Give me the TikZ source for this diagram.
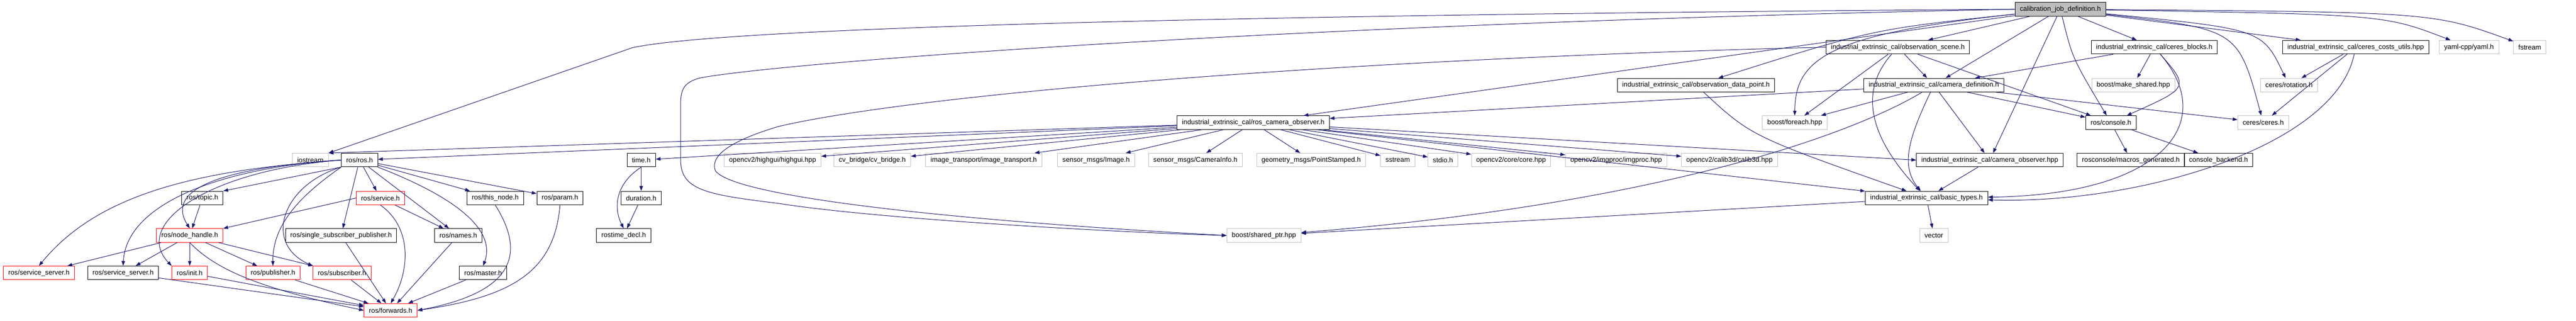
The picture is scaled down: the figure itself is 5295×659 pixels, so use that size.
\documentclass[tikz,border=0pt]{standalone}
\usepackage{fontspec}
\setmainfont{Liberation Sans}
\usetikzlibrary{arrows.meta}
\definecolor{edgeblue}{HTML}{191970}
\definecolor{extgray}{HTML}{BFBFBF}
\tikzset{
  file/.style={draw=black, line width=0.6pt, inner xsep=0.2cm, inner ysep=0pt,
    minimum height=0.56cm, font=\fontsize{8}{9}\selectfont},
  redfile/.style={file, draw=red},
  extfile/.style={file, draw=extgray},
  rootfile/.style={file, fill=extgray},
  dep/.style={draw=edgeblue, line width=0.6pt, -{Triangle[length=0.2cm,width=0.14cm]}},
}
\begin{document}
\begin{tikzpicture}[x=0.02cm, y=-0.02cm]
\useasboundingbox (0,0) rectangle (5295,659);
% top rows
\node[rootfile] (root) at (4235,19) {calibration\_job\_definition.h};
\node[file] (scene) at (3901,97) {industrial\_extrinsic\_cal/observation\_scene.h};
\node[file] (blocks) at (4428,97) {industrial\_extrinsic\_cal/ceres\_blocks.h};
\node[file] (costs) at (4842,97) {industrial\_extrinsic\_cal/ceres\_costs\_utils.hpp};
\node[extfile] (yaml) at (5075,97) {yaml-cpp/yaml.h};
\node[extfile] (fstream) at (5200,97) {fstream};
\node[file] (datapt) at (3486,175) {industrial\_extrinsic\_cal/observation\_data\_point.h};
\node[file] (camdef) at (3975,175) {industrial\_extrinsic\_cal/camera\_definition.h};
\node[extfile] (makeshared) at (4385,175) {boost/make\_shared.hpp};
\node[extfile] (rotation) at (4705,175) {ceres/rotation.h};
\node[file] (rosobs) at (2576,252) {industrial\_extrinsic\_cal/ros\_camera\_observer.h};
\node[extfile] (foreach) at (3689,252) {boost/foreach.hpp};
\node[file] (console) at (4339,252) {ros/console.h};
\node[extfile] (ceres) at (4652,252) {ceres/ceres.h};
% includes of the ros camera observer
\node[extfile] (iostream) at (638,329) {iostream};
\node[file] (rosh) at (739,329) {ros/ros.h};
\node[file] (timeh) at (1318,329) {time.h};
\node[extfile] (highgui) at (1588,329) {opencv2/highgui/highgui.hpp};
\node[extfile] (cvbridge) at (1793,329) {cv\_bridge/cv\_bridge.h};
\node[extfile] (imgtrans) at (2022,329) {image\_transport/image\_transport.h};
\node[extfile] (imagemsg) at (2253,329) {sensor\_msgs/Image.h};
\node[extfile] (caminfo) at (2457,329) {sensor\_msgs/CameraInfo.h};
\node[extfile] (ptstamped) at (2695,329) {geometry\_msgs/PointStamped.h};
\node[extfile] (sstream) at (2873,329) {sstream};
\node[extfile] (stdio) at (2966,329) {stdio.h};
\node[extfile] (core) at (3106,329) {opencv2/core/core.hpp};
\node[extfile] (imgproc) at (3322,329) {opencv2/imgproc/imgproc.hpp};
\node[extfile] (calib3d) at (3555,329) {opencv2/calib3d/calib3d.hpp};
\node[file] (camobs) at (4090,329) {industrial\_extrinsic\_cal/camera\_observer.hpp};
\node[file] (macros) at (4380,329) {rosconsole/macros\_generated.h};
\node[file] (backend) at (4560,329) {console\_backend.h};
% ros headers
\node[file] (topic) at (416,407) {ros/topic.h};
\node[redfile] (service) at (782,407) {ros/service.h};
\node[file] (thisnode) at (1018,407) {ros/this\_node.h};
\node[file] (param) at (1151,407) {ros/param.h};
\node[file] (duration) at (1318,407) {duration.h};
\node[file] (basic) at (3960,407) {industrial\_extrinsic\_cal/basic\_types.h};
\node[redfile] (nodehandle) at (390,484) {ros/node\_handle.h};
\node[file] (singlesub) at (701,484) {ros/single\_subscriber\_publisher.h};
\node[file] (names) at (942,484) {ros/names.h};
\node[file] (rostimedecl) at (1282,484) {rostime\_decl.h};
\node[extfile] (sharedptr) at (2598,484) {boost/shared\_ptr.hpp};
\node[extfile] (vector) at (3975,484) {vector};
\node[redfile] (srvred) at (80,561) {ros/service\_server.h};
\node[file] (srvblk) at (253,561) {ros/service\_server.h};
\node[redfile] (init) at (390,561) {ros/init.h};
\node[redfile] (publisher) at (561,561) {ros/publisher.h};
\node[redfile] (subscriber) at (703,561) {ros/subscriber.h};
\node[file] (master) at (993,561) {ros/master.h};
\node[redfile] (forwards) at (803,638) {ros/forwards.h};
% edges of the root
\draw[dep] (root.west) .. controls (2600,30) and (1500,55) .. (1300,98) -- (iostream.north east);
\draw[dep] (root.west) .. controls (2600,50) and (1600,130) .. (1440,160) .. controls (1400,170) and (1399,190) .. (1399,220) -- (1399,330) .. controls (1400,390) and (1450,400) .. (1600,418) .. controls (1800,450) and (2300,478) .. (sharedptr.west);
\draw[dep] (root) -- (rosobs);
\draw[dep] (root) .. controls (3850,60) .. (datapt);
\draw[dep] (root) .. controls (3760,70) and (3690,120) .. (foreach);
\draw[dep] (root) -- (scene);
\draw[dep] (root) -- (camdef);
\draw[dep] (root) -- (camobs);
\draw[dep] (root) .. controls (4260,120) .. (console);
\draw[dep] (root) -- (blocks);
\draw[dep] (root) .. controls (4600,60) .. (ceres);
\draw[dep] (root) .. controls (4650,60) .. (rotation);
\draw[dep] (root) -- (costs);
\draw[dep] (root) .. controls (4900,30) .. (yaml);
\draw[dep] (root) .. controls (5000,25) .. (fstream);
% observation scene, data point, camera definition
\draw[dep] (scene.west) .. controls (2800,120) and (1900,190) .. (1600,260) .. controls (1500,290) and (1460,320) .. (1470,350) .. controls (1500,400) and (1900,450) .. (sharedptr.west);
\draw[dep] (scene) -- (camdef);
\draw[dep] (scene) -- (foreach);
\draw[dep] (scene) -- (console);
\draw[dep] (scene) .. controls (3810,200) and (3860,300) .. (basic);
\draw[dep] (datapt) .. controls (3600,280) .. (basic);
\draw[dep] (camdef) -- (rosobs);
\draw[dep] (camdef) -- (foreach);
\draw[dep] (camdef) -- (console);
\draw[dep] (camdef) -- (ceres);
\draw[dep] (camdef) -- (camobs);
\draw[dep] (camdef) .. controls (3800,280) and (3400,420) .. (sharedptr);
\draw[dep] (camdef) .. controls (3925,280) and (3905,340) .. (basic);
\draw[dep] (blocks) -- (camdef);
\draw[dep] (blocks) -- (makeshared);
\draw[dep] (blocks) .. controls (4500,180) .. (console);
\draw[dep] (blocks) .. controls (4560,250) and (4450,400) .. (basic);
\draw[dep] (costs) -- (rotation);
\draw[dep] (costs) -- (ceres);
\draw[dep] (costs) .. controls (4800,300) and (4400,420) .. (basic);
\draw[dep] (console) -- (macros);
\draw[dep] (console) -- (backend);
\draw[dep] (camobs) -- (basic);
\draw[dep] (basic) -- (vector);
\draw[dep] (basic) -- (sharedptr);
% ros camera observer
\draw[dep] (rosobs) -- (iostream.north east);
\draw[dep] (rosobs) -- (rosh);
\draw[dep] (rosobs) -- (timeh);
\foreach \dst in {highgui,cvbridge,imgtrans,imagemsg,caminfo,ptstamped,sstream,stdio,core,imgproc,calib3d,basic}
  \draw[dep] (rosobs) -- (\dst);
\draw[dep] (rosobs) -- (camobs.west);
% ros/ros.h
\draw[dep] (rosh.south west) -- (topic.north east);
\draw[dep] (rosh.west) .. controls (400,350) and (200,400) .. (srvred.north);
\draw[dep] (rosh.west) .. controls (450,345) and (260,420) .. (srvblk.north);
\draw[dep] (rosh.west) .. controls (430,350) and (270,460) .. (init.north west);
\draw[dep] (rosh.west) .. controls (450,345) and (340,390) .. (nodehandle.north);
\draw[dep] (rosh.south west) .. controls (620,400) and (560,460) .. (publisher.north);
\draw[dep] (rosh.south west) .. controls (580,380) and (540,500) .. (subscriber.north west);
\draw[dep] (rosh) -- (singlesub);
\draw[dep] (rosh) -- (service);
\draw[dep] (rosh) -- (names);
\draw[dep] (rosh.south east) .. controls (1000,430) and (1010,500) .. (master.north);
\draw[dep] (rosh) -- (thisnode);
\draw[dep] (rosh) -- (param);
\draw[dep] (topic) -- (nodehandle);
\draw[dep] (service.west) -- (nodehandle.north east);
\draw[dep] (service) -- (names);
\draw[dep] (service.south) .. controls (850,470) and (840,560) .. (forwards.north);
\foreach \dst in {srvred,srvblk,init,publisher,subscriber}
  \draw[dep] (nodehandle) -- (\dst);
\draw[dep] (nodehandle.south) .. controls (440,550) and (520,590) .. (forwards.west);
\foreach \src in {srvblk,init,publisher,subscriber,singlesub,names,master}
  \draw[dep] (\src) -- (forwards);
\draw[dep] (thisnode.south) .. controls (1080,520) and (1060,600) .. (forwards.east);
\draw[dep] (param.south) .. controls (1140,560) and (1050,610) .. (forwards.east);
% time
\draw[dep] (timeh) -- (duration);
\draw[dep] (timeh.south) .. controls (1262,380) and (1262,430) .. (rostimedecl.north);
\draw[dep] (duration) -- (rostimedecl);
\end{tikzpicture}
\end{document}
